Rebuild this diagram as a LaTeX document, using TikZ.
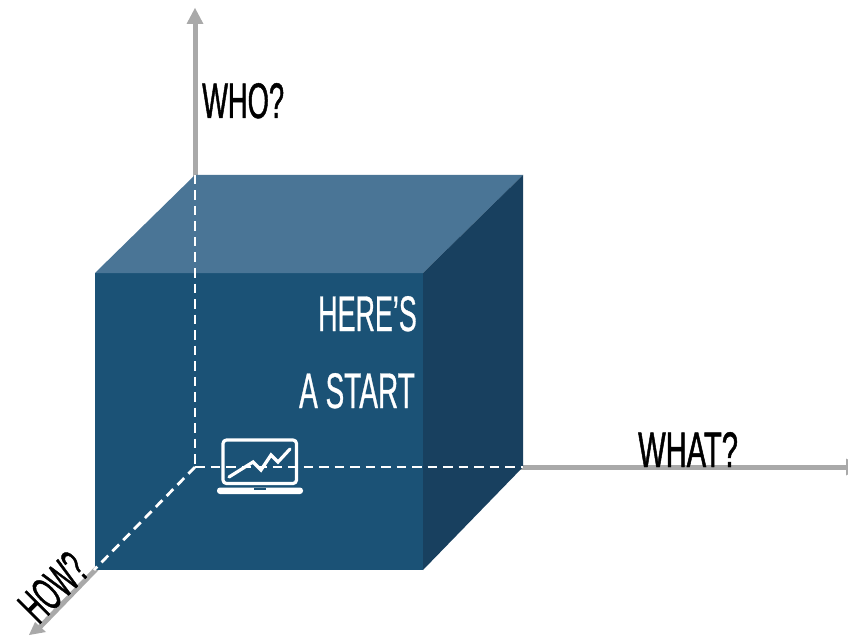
\documentclass[tikz,border=0pt]{standalone}
\usepackage{fontspec}
\setmainfont{Liberation Sans}
\newfontfamily\condfont{Liberation Sans}[FakeStretch=0.56,FakeBold=0.9]
\newfontfamily\condfontw{Liberation Sans}[FakeStretch=0.56,FakeBold=0.6]
\definecolor{cubefront}{HTML}{1B5276}
\definecolor{cubetop}{HTML}{4A7596}
\definecolor{cuberight}{HTML}{18405F}
\definecolor{axisgray}{HTML}{A9A9A9}
\tikzset{
  axisline/.style={draw=axisgray,line width=5pt},
  axishead/.style={fill=axisgray,draw=none},
  hiddenline/.style={draw=white,line width=2.8pt,dash pattern=on 9.5pt off 6pt},
  lbl/.style={font=\condfont\fontsize{50}{50}\selectfont,inner sep=0pt,text=black},
  lblhow/.style={font=\condfont\fontsize{48}{48}\selectfont,inner sep=0pt,text=black},
  lblw/.style={font=\condfontw\fontsize{50}{50}\selectfont,inner sep=0pt,text=white},
  laptop/.style={draw=white,line width=3.2pt,line join=round}
}
\begin{document}
\begin{tikzpicture}[x=1pt,y=-1pt]
\path[use as bounding box,fill=white] (0,0) rectangle (848,636);
% axis coordinates
\coordinate (O) at (195,467);
\coordinate (Wtop) at (195,24);
\coordinate (Wend) at (846,467);
\coordinate (Hend) at (40,627);
% visible axes
\draw[axisline] (O) -- (Wtop);
\draw[axisline] (O) -- (Wend);
\draw[axisline] (O) -- (Hend);
\fill[axishead] (195,8) -- (203.5,24) -- (186.5,24) -- cycle;
\fill[axishead] (862,467) -- (846,458.5) -- (846,475.5) -- cycle;
\fill[axishead] (29,635) -- (35,622) -- (46,632) -- cycle;
% cube
\fill[cubefront] (95,273) rectangle (423,570);
\fill[cubetop] (95,273) -- (195,175) -- (523,175) -- (423,273) -- cycle;
\fill[cuberight] (423,273) -- (523,175) -- (523,467) -- (423,570) -- cycle;
% hidden axes
\draw[hiddenline] (195,175) -- (O);
\draw[hiddenline] (O) -- (523,467);
\draw[hiddenline] (O) -- (94,570);
% laptop
\draw[laptop,rounded corners=3.5pt] (223,440) rectangle (296.5,483.5);
\draw[laptop,line cap=round,line join=miter] (229,477) -- (253,462) -- (261,470) -- (271,455) -- (278,462) -- (290,449);
\fill[white,rounded corners=3pt] (217,487.5) rectangle (303,494);
\fill[cubefront] (254,488) rectangle (266,490);
% labels
\node[lbl,anchor=base west] (who) at (202,118) {\scalebox{.975}[1]{WHO?}};
\node[lbl,anchor=base west] (what) at (638,467) {\scalebox{1.04}[1]{WHAT?}};
\node[lblhow,anchor=base,rotate=45] (how) at (65,599) {\scalebox{.92}[1]{HOW?}};
\node[lblw,anchor=base east] (heres) at (417,331) {\scalebox{.96}[1]{HERE’S}};
\node[lblw,anchor=base east] (start) at (415,408) {A START};
\end{tikzpicture}
\end{document}
